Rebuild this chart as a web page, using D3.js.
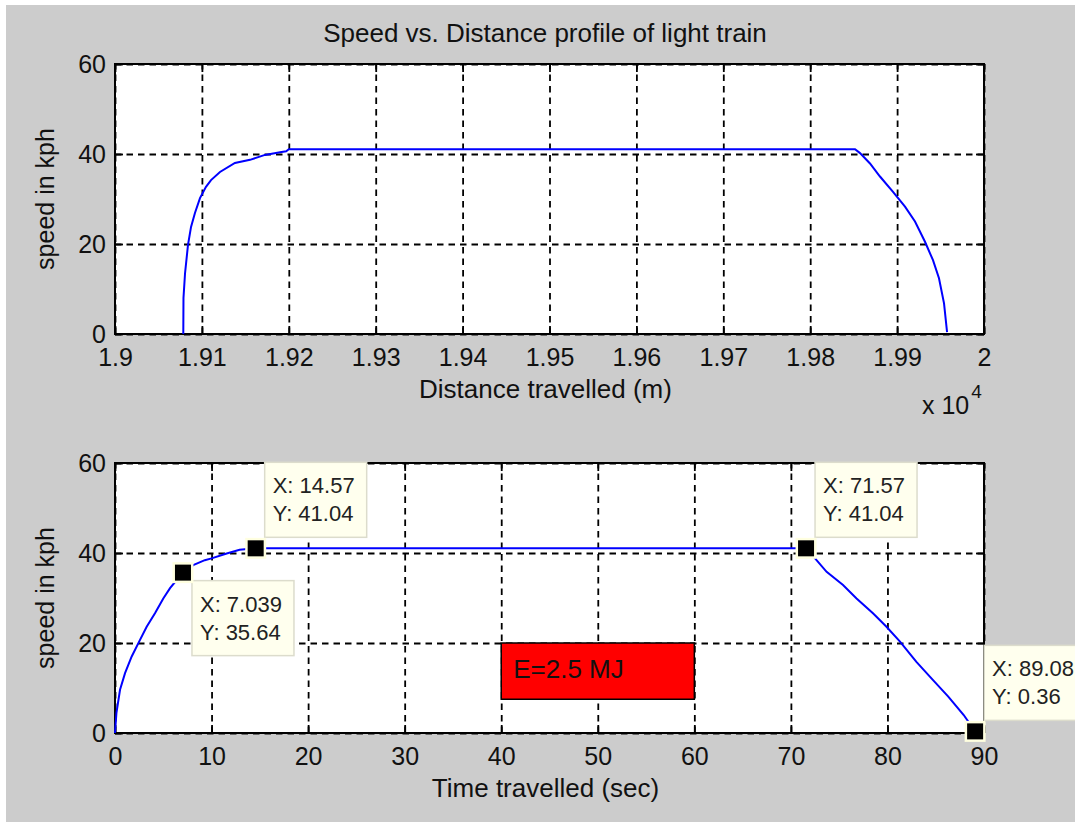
<!DOCTYPE html>
<html>
<head>
<meta charset="utf-8">
<script src="https://cdn.jsdelivr.net/npm/d3@7"></script>
<style>
  body { margin: 0; background: #fff; }
  svg { display: block; font-family: "Liberation Sans", Arial, sans-serif; }
  .grid line { stroke: #000; stroke-width: 1.8; stroke-dasharray: 6.5 5; }
  .grid .domain, .ax .domain { display: none; }
  .ax line { stroke: #000; stroke-width: 1.8; }
  .ax text { font-size: 25px; fill: #111; font-family: "Liberation Sans", Arial, sans-serif; }
</style>
</head>
<body>
<div id="chart"></div>
<script>
// top panel: speed vs distance (m)
const topDist = [19078.6, 19078.8, 19080.6, 19084, 19087.5, 19092, 19097.8, 19104.7, 19110.5, 19120.8,
                 19138, 19155.4, 19172.6, 19189.9, 19197, 19200, 19851.6, 19857.3, 19868.8, 19880.3,
                 19895.3, 19909.1, 19920.6, 19932.1, 19941.3, 19948.2, 19954, 19957.5];
const topSpeed = [0, 8, 13.5, 19.8, 23.8, 26.9, 30.2, 32.7, 34.2, 36.0,
                  38.0, 38.7, 39.8, 40.4, 40.6, 41.04, 41.04, 40.2, 37.9, 35.0,
                  31.6, 28.3, 25.0, 20.5, 16.4, 12.4, 6.8, 0.4];

// bottom panel: speed vs time (sec)
const botTime = [0, 0.15, 0.52, 1.04, 1.73, 2.59, 3.28, 4.14, 5.0, 5.7, 6.39, 7.039, 8.1, 9.3, 10.0,
                 11.57, 12.9, 14.57, 71.57, 72.5, 73.7, 75.4, 76.8, 78.5, 79.9, 81.3, 83.0, 84.7,
                 86.3, 87.9, 89.08];
const botSpeed = [0, 4.5, 9.6, 13.3, 17, 20.7, 23.6, 26.6, 29.9, 32.2, 34, 35.64, 37.3, 38.4, 38.8,
                  39.9, 40.7, 41.04, 41.04, 38.8, 35.8, 32.9, 29.9, 26.6, 23.6, 20.3, 15.8, 11.8,
                  8.1, 4.0, 0.36];

// data tips on bottom panel
const tipX = [7.039, 14.57, 71.57, 89.08];
const tipY = [35.64, 41.04, 41.04, 0.36];
const tipXText = ["7.039", "14.57", "71.57", "89.08"];
const tipYText = ["35.64", "41.04", "41.04", "0.36"];
const tipSide = ["below", "above", "above", "above"];

// energy annotation (data coords of bottom panel)
const energyX = [40, 60];
const energyY = [7.5, 20];
const energyLabel = "E=2.5 MJ";

const topXTicks = [19000, 19100, 19200, 19300, 19400, 19500, 19600, 19700, 19800, 19900, 20000];
const botXTicks = [0, 10, 20, 30, 40, 50, 60, 70, 80, 90];
const yTicks = [0, 20, 40, 60];

const W = 1075, Hh = 822;
const L = 115, R = 984, PH = 270;

const svg = d3.select("#chart").append("svg").attr("width", W).attr("height", Hh);
svg.append("rect").attr("x", 6).attr("y", 5).attr("width", W - 6).attr("height", Hh - 5).attr("fill", "#CCCCCC");

function panel(top, xDomain, xTicks, xFmt, xs, ys, xLabel) {
    const x = d3.scaleLinear().domain(xDomain).range([L, R]);
    const y = d3.scaleLinear().domain([0, 60]).range([top + PH, top]);
    const g = svg.append("g");

    g.append("rect").attr("x", L).attr("y", top).attr("width", R - L).attr("height", PH).attr("fill", "#fff");

    // dashed grid
    g.append("g").attr("class", "grid").attr("transform", `translate(0,${top + PH})`)
        .call(d3.axisBottom(x).tickValues(xTicks).tickSize(-PH).tickFormat(""));
    g.append("g").attr("class", "grid").attr("transform", `translate(${L},0)`)
        .call(d3.axisLeft(y).tickValues(yTicks).tickSize(-(R - L)).tickFormat(""));

    // inward ticks on all sides
    g.append("g").attr("class", "ax").attr("transform", `translate(0,${top + PH})`)
        .call(d3.axisBottom(x).tickValues(xTicks).tickSize(-8).tickPadding(14).tickFormat(xFmt));
    g.append("g").attr("class", "ax").attr("transform", `translate(0,${top})`)
        .call(d3.axisTop(x).tickValues(xTicks).tickSize(-8).tickFormat(""));
    g.append("g").attr("class", "ax").attr("transform", `translate(${L},0)`)
        .call(d3.axisLeft(y).tickValues(yTicks).tickSize(-8).tickPadding(9));
    g.append("g").attr("class", "ax").attr("transform", `translate(${R},0)`)
        .call(d3.axisRight(y).tickValues(yTicks).tickSize(-8).tickFormat(""));

    g.append("rect").attr("x", L).attr("y", top).attr("width", R - L).attr("height", PH)
        .attr("fill", "none").attr("stroke", "#000").attr("stroke-width", 2);

    const line = d3.line().x((d, i) => x(xs[i])).y((d, i) => y(ys[i]));
    g.append("path").datum(xs).attr("d", line)
        .attr("fill", "none").attr("stroke", "#0000FF").attr("stroke-width", 2);

    g.append("text").attr("x", (L + R) / 2 - 4).attr("y", top + PH + 64)
        .attr("text-anchor", "middle").attr("font-size", 26).attr("fill", "#111").text(xLabel);

    g.append("text").attr("transform", `translate(54,${top + PH / 2}) rotate(-90)`)
        .attr("text-anchor", "middle").attr("font-size", 25).attr("fill", "#111").text("speed in kph");

    return { x, y, g };
}

svg.append("text").attr("x", 545).attr("y", 42).attr("text-anchor", "middle")
    .attr("font-size", 26).attr("fill", "#111").text("Speed vs. Distance profile of light train");

const topP = panel(64, [19000, 20000], topXTicks, d => +(d / 1e4).toFixed(2), topDist, topSpeed, "Distance travelled (m)");

// exponent label
const ex = svg.append("text").attr("x", 922).attr("y", 414).attr("font-size", 25).attr("fill", "#111");
ex.append("tspan").text("x 10");
ex.append("tspan").attr("font-size", 19).attr("dy", -16).attr("dx", 2).text("4");

const bot = panel(463, [0, 90], botXTicks, d => d, botTime, botSpeed, "Time travelled (sec)");

// energy box
bot.g.append("rect")
    .attr("x", bot.x(energyX[0])).attr("y", bot.y(energyY[1]))
    .attr("width", bot.x(energyX[1]) - bot.x(energyX[0]))
    .attr("height", bot.y(energyY[0]) - bot.y(energyY[1]))
    .attr("fill", "#FF0000").attr("stroke", "#000").attr("stroke-width", 1.5);
bot.g.append("text")
    .attr("x", bot.x(energyX[0]) + 12)
    .attr("y", (bot.y(energyY[0]) + bot.y(energyY[1])) / 2 + 7)
    .attr("font-size", 26).attr("fill", "#111").text(energyLabel);

// data tips
const tipW = 102, tipH = 75;
tipX.forEach((tx, i) => {
    const cx = bot.x(tx), cy = bot.y(tipY[i]);
    const bx = cx + 9;
    const by = tipSide[i] === "below" ? cy + 8 : cy - 11 - tipH;
    bot.g.append("rect").attr("x", bx).attr("y", by).attr("width", tipW).attr("height", tipH)
        .attr("fill", "#FFFFEE").attr("stroke", "#DCDCCC").attr("stroke-width", 1.5);
    bot.g.append("text").attr("x", bx + 8).attr("y", by + 31).attr("font-size", 22).attr("fill", "#222")
        .text("X: " + tipXText[i]);
    bot.g.append("text").attr("x", bx + 8).attr("y", by + 59).attr("font-size", 22).attr("fill", "#222")
        .text("Y: " + tipYText[i]);
    bot.g.append("rect").attr("x", cx - 10.5).attr("y", cy - 10.5).attr("width", 21).attr("height", 21)
        .attr("fill", "#FFFFE0");
    bot.g.append("rect").attr("x", cx - 8).attr("y", cy - 8).attr("width", 16).attr("height", 16)
        .attr("fill", "#000");
});
</script>
</body>
</html>
